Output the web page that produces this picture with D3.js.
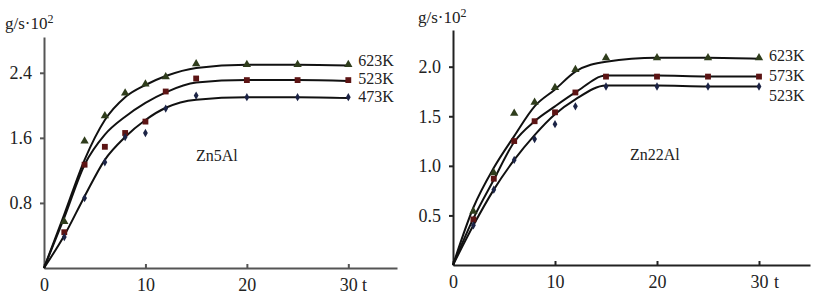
<!DOCTYPE html>
<meta charset="utf-8">
<style>
body { margin: 0; background: #fff; }
svg text { font-family: "Liberation Serif", "Times New Roman", "DejaVu Serif", serif !important; fill: #222; }
.axis text { font-size: 18px; }
.axis path, .axis line { stroke-width: 2; }
</style>
<body>
<script src="https://d3js.org/d3.v7.min.js"></script>
<script>

// measurement times
var tPoints = [2, 4, 6, 8, 10, 12, 15, 20, 25, 30];
var tCurve = [0, 2, 4, 6, 8, 10, 12, 15, 20, 25, 30];

// Zn5Al panel
var zn5Labels = ["623K", "523K", "473K"];
var zn5Pts623 = [0.57, 1.56, 1.87, 2.15, 2.26, 2.35, 2.51, 2.50, 2.50, 2.50];
var zn5Pts523 = [0.44, 1.27, 1.49, 1.66, 1.80, 2.17, 2.33, 2.31, 2.31, 2.31];
var zn5Pts473 = [0.38, 0.86, 1.30, 1.61, 1.66, 1.96, 2.12, 2.10, 2.10, 2.10];
var zn5Fit623 = [0, 0.66, 1.33, 1.82, 2.10, 2.25, 2.36, 2.46, 2.50, 2.50, 2.49];
var zn5Fit523 = [0, 0.62, 1.27, 1.64, 1.86, 2.03, 2.16, 2.28, 2.31, 2.31, 2.30];
var zn5Fit473 = [0, 0.40, 0.88, 1.33, 1.61, 1.82, 1.97, 2.07, 2.10, 2.10, 2.09];
var zn5YTicks = [0.8, 1.6, 2.4];

// Zn22Al panel
var zn22Labels = ["623K", "573K", "523K"];
var zn22Pts623 = [0.54, 0.93, 1.53, 1.64, 1.79, 1.97, 2.09, 2.09, 2.09, 2.09];
var zn22Pts573 = [0.46, 0.87, 1.25, 1.45, 1.54, 1.74, 1.90, 1.90, 1.90, 1.90];
var zn22Pts523 = [0.40, 0.76, 1.06, 1.27, 1.42, 1.60, 1.80, 1.80, 1.80, 1.80];
var zn22Fit623 = [0, 0.58, 0.98, 1.30, 1.60, 1.77, 1.95, 2.05, 2.09, 2.09, 2.08];
var zn22Fit573 = [0, 0.47, 0.86, 1.24, 1.45, 1.60, 1.74, 1.91, 1.91, 1.90, 1.90];
var zn22Fit523 = [0, 0.40, 0.76, 1.06, 1.31, 1.52, 1.67, 1.81, 1.81, 1.80, 1.80];
var zn22YTicks = [0.5, 1.0, 1.5, 2.0];

var xTicks = [0, 10, 20, 30];

var markers = [
  { type: d3.symbolTriangle, size: 30, color: "#2f3d1c" },
  { type: d3.symbolSquare, size: 34, color: "#5c1414" },
  { type: d3.symbolDiamond, size: 20, color: "#1c2446" }
];

var serif = '"Liberation Serif", "Times New Roman", "DejaVu Serif", serif';

var svg = d3.select("body").append("svg")
    .attr("width", 827)
    .attr("height", 300)
    .style("font-family", serif);

function panel(p) {
  var x = d3.scaleLinear().domain(p.xDomain).range(p.xRange);
  var y = d3.scaleLinear().domain(p.yDomain).range(p.yRange);
  var g = svg.append("g");

  var xa = g.append("g")
      .attr("class", "axis")
      .attr("transform", "translate(0," + p.yRange[0] + ")")
      .call(d3.axisBottom(x).tickValues(xTicks).tickSizeInner(-4).tickSizeOuter(0).tickPadding(10));

  var ya = g.append("g")
      .attr("class", "axis")
      .attr("transform", "translate(" + p.xRange[0] + ",0)")
      .call(d3.axisLeft(y).tickValues(p.yTicks).tickSizeInner(4).tickSizeOuter(0).tickPadding(8)
        .tickFormat(d3.format(".1f")));

  [xa, ya].forEach(function(a) {
    a.attr("font-family", serif).attr("font-size", 18);
    a.selectAll("path, line").attr("stroke", p.axisColor);
    a.selectAll("text").attr("fill", "#222");
  });

  var line = d3.line()
      .x(function(d, i) { return x(tCurve[i]); })
      .y(function(d) { return y(d); })
      .curve(d3.curveMonotoneX);

  p.fits.forEach(function(f) {
    g.append("path")
        .attr("d", line(f))
        .attr("fill", "none")
        .attr("stroke", "#111")
        .attr("stroke-width", 2);
  });

  p.pts.forEach(function(s, k) {
    var m = markers[k];
    g.selectAll(null)
        .data(s)
      .enter().append("path")
        .attr("transform", function(d, i) { return "translate(" + x(tPoints[i]) + "," + y(d) + ")"; })
        .attr("d", d3.symbol().type(m.type).size(m.size))
        .attr("fill", m.color);
  });

  p.labels.forEach(function(l, k) {
    g.append("text")
        .attr("x", x(30) + 10)
        .attr("y", p.labelY[k])
        .attr("dy", "0.35em")
        .style("font-size", "16px")
        .text(l);
  });

  var yl = g.append("text")
      .attr("x", p.yLabelPos[0])
      .attr("y", p.yLabelPos[1])
      .style("font-size", "17px");
  yl.append("tspan").text("g/s·10");
  yl.append("tspan").attr("dy", "-6").style("font-size", "12px").text("2");

  g.append("text")
      .attr("x", p.tPos[0])
      .attr("y", p.tPos[1])
      .attr("dy", "0.35em")
      .style("font-size", "18px")
      .text("t");

  g.append("text")
      .attr("x", p.namePos[0])
      .attr("y", p.namePos[1])
      .attr("dy", "0.35em")
      .style("font-size", "16px")
      .text(p.name);
}

panel({
  xDomain: [0, 34.8], xRange: [44, 397],
  yDomain: [0, 2.84], yRange: [268, 37],
  yTicks: zn5YTicks, axisColor: "#555",
  pts: [zn5Pts623, zn5Pts523, zn5Pts473],
  fits: [zn5Fit623, zn5Fit523, zn5Fit473],
  labels: zn5Labels, labelY: [60, 78, 96],
  yLabelPos: [5, 29], tPos: [362, 285],
  name: "Zn5Al", namePos: [196, 155]
});

panel({
  xDomain: [0, 35.0], xRange: [453, 810],
  yDomain: [0, 2.37], yRange: [265, 30],
  yTicks: zn22YTicks, axisColor: "#222",
  pts: [zn22Pts623, zn22Pts573, zn22Pts523],
  fits: [zn22Fit623, zn22Fit573, zn22Fit523],
  labels: zn22Labels, labelY: [55, 75, 95],
  yLabelPos: [418, 23], tPos: [774, 282],
  name: "Zn22Al", namePos: [630, 154]
});

</script>
